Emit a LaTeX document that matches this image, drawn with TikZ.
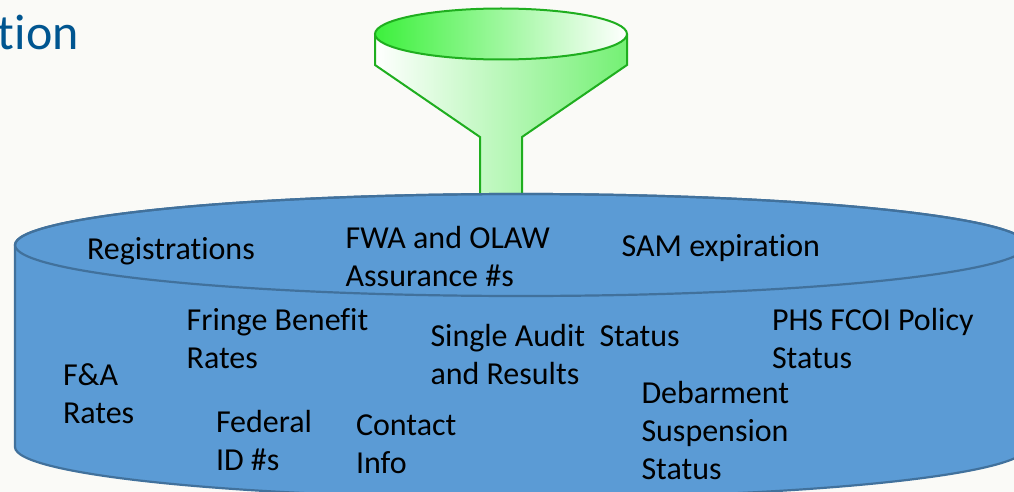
\documentclass[tikz,border=0pt]{standalone}
\usepackage{fontspec}
\setmainfont[Ligatures=CommonOff]{Carlito}
\definecolor{bgc}{HTML}{FAFAF7}
\definecolor{cylfill}{HTML}{5B9BD5}
\definecolor{cylline}{HTML}{41719C}
\definecolor{fungreen}{HTML}{1FAE1F}
\definecolor{funleft}{HTML}{3CF03C}
\definecolor{funright}{HTML}{74F074}
\definecolor{titleblue}{HTML}{005590}
\tikzset{
  lbl/.style={anchor=base west,inner sep=0pt,outer sep=0pt,align=left,text=black,font=\fontsize{32}{38}\selectfont},
  cyl/.style={fill=cylfill,draw=cylline,line width=2.2pt},
  fun/.style={draw=fungreen,line width=2pt,line join=miter}
}
\begin{document}
\begin{tikzpicture}[x=1pt,y=-1pt]
\useasboundingbox (0,0) rectangle (1014,492);
\clip (0,0) rectangle (1014,492);
\fill[bgc] (0,0) rectangle (1014,492);
\node[anchor=base east,inner sep=0pt,text=titleblue,font=\fontsize{50}{54}\selectfont] (title) at (79,50) {tion};
% funnel
\shade[left color=white,right color=funright] (375,34) -- (375,65) -- (480,137) -- (480,197) -- (522,197) -- (522,137) -- (627,65) -- (627,34) -- cycle;
\draw[fun] (375,34) -- (375,65) -- (480,137) -- (480,197) (522,197) -- (522,137) -- (627,65) -- (627,34);
\shade[left color=funleft,right color=white] (501,34) ellipse [x radius=126,y radius=25.5];
\draw[fun] (501,34) ellipse [x radius=126,y radius=25.5];
% cylinder
\draw[cyl] (15,245) -- (15,447) arc[start angle=180,end angle=0,x radius=506,y radius=51] -- (1027,245) arc[start angle=0,end angle=-180,x radius=506,y radius=51] -- cycle;
\draw[cyl,fill=none] (521,245) ellipse [x radius=506,y radius=51];
% labels
\node[lbl] (reg) at (87,259) {Registrations};
\node[lbl] (fwa) at (345.7,286) {FWA and OLAW\\Assurance \#s};
\node[lbl] (sam) at (621.7,256) {SAM expiration};
\node[lbl] (fringe) at (186.7,368) {Fringe Benefit\\Rates};
\node[lbl] (audit) at (430.5,384) {Single Audit\\and Results};
\node[lbl] (status) at (599.5,346) {Status};
\node[lbl] (phs) at (772,368) {PHS FCOI Policy\\Status};
\node[lbl] (fa) at (63,423) {F\&A\\Rates};
\node[lbl] (fed) at (216,470) {Federal\\ID \#s};
\node[lbl] (contact) at (356,473) {Contact\\Info};
\node[lbl] (deb) at (641.5,479) {Debarment\\Suspension\\Status};
\end{tikzpicture}
\end{document}
